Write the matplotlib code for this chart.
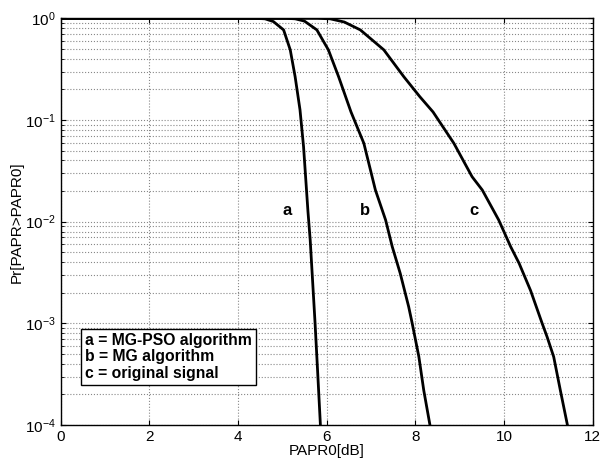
import numpy as np
import matplotlib
matplotlib.use("Agg")
import matplotlib.pyplot as plt

plt.rcParams['font.family'] = ['Liberation Sans', 'DejaVu Sans']

# curve a = MG-PSO algorithm
papr_a = [0.0, 4.4, 4.61, 4.80, 5.03, 5.18, 5.29, 5.40, 5.48, 5.58, 5.63, 5.74, 5.80, 5.86]
ccdf_a = [1.0, 1.0, 0.99, 0.93, 0.77, 0.49, 0.267, 0.126, 0.0547, 0.0125, 0.0066, 1e-3, 3.2e-4, 1e-4]

# curve b = MG algorithm
papr_b = [0.0, 5.1, 5.29, 5.50, 5.78, 6.04, 6.27, 6.55, 6.84, 7.10, 7.33, 7.48, 7.66,
          7.85, 7.93, 8.08, 8.19, 8.33]
ccdf_b = [1.0, 1.0, 0.99, 0.94, 0.77, 0.49, 0.267, 0.12, 0.059, 0.0205, 0.0104, 0.00568, 0.0031,
          0.00146, 1e-3, 4.7e-4, 2.2e-4, 1e-4]

# curve c = original signal
papr_c = [0.0, 5.8, 6.08, 6.40, 6.76, 7.29, 7.74, 8.10, 8.40, 8.87, 9.28, 9.51, 9.88, 10.15,
          10.34, 10.60, 10.86, 10.97, 11.12, 11.27, 11.43]
ccdf_c = [1.0, 1.0, 0.99, 0.92, 0.77, 0.49, 0.267, 0.17, 0.12, 0.059, 0.0277, 0.0205, 0.0104,
          0.00568, 0.0039, 0.0021, 1e-3, 7.4e-4, 4.7e-4, 2.2e-4, 1e-4]

fig = plt.figure(figsize=(6.01, 4.59), dpi=100)
ax = fig.add_axes([0.1007, 0.074, 0.8855, 0.886])

for xs, ys in [(papr_a, ccdf_a), (papr_b, ccdf_b), (papr_c, ccdf_c)]:
    ax.semilogy(xs, ys, color='black', lw=2.0, solid_joinstyle='round')

ax.set_xlim(0, 12)
ax.set_ylim(1e-4, 1)
ax.set_xticks([0, 2, 4, 6, 8, 10, 12])
ax.grid(True, which='major', ls=':', color='#888888', lw=0.8)
ax.grid(True, which='minor', axis='y', ls=':', color='#888888', lw=0.8)
ax.tick_params(which='both', direction='in', top=True, right=True, labelsize=11)
ax.set_xlabel('PAPR0[dB]', fontsize=11, labelpad=0)
ax.set_ylabel('Pr[PAPR>PAPR0]', fontsize=11, labelpad=1)
for s in ax.spines.values():
    s.set_linewidth(1.0)

ax.text(5.11, 0.013, 'a', fontsize=12, fontweight='bold', ha='center', va='center')
ax.text(6.87, 0.013, 'b', fontsize=12, fontweight='bold', ha='center', va='center')
ax.text(9.32, 0.013, 'c', fontsize=12, fontweight='bold', ha='center', va='center')

ax.text(0.56, 10**-3.33, 'a = MG-PSO algorithm\nb = MG algorithm\nc = original signal',
        fontsize=11.3, fontweight='bold', ha='left', va='center', linespacing=1.1,
        bbox=dict(boxstyle='square,pad=0.25', facecolor='white', edgecolor='black', lw=1.0))

fig.savefig('out.png', dpi=100)
